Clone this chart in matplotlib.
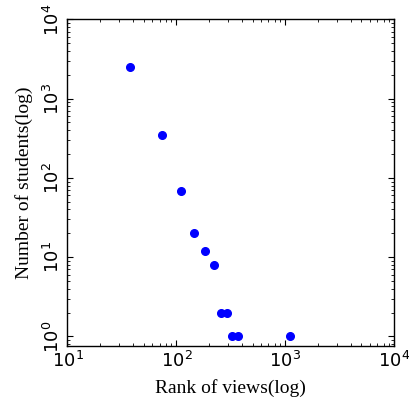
import matplotlib
matplotlib.use('Agg')
import matplotlib.pyplot as plt

# rank of views vs number of students
rank = [37.6, 74, 110, 146, 183, 220, 257, 292, 327, 366, 1097]
students = [2540, 343, 68, 20, 12, 8, 2, 2, 1, 1, 1]

plt.rcParams['xtick.direction'] = 'in'
plt.rcParams['ytick.direction'] = 'in'
plt.rcParams['xtick.top'] = True
plt.rcParams['ytick.right'] = True
plt.rcParams['xtick.major.size'] = 4
plt.rcParams['ytick.major.size'] = 4
plt.rcParams['xtick.minor.size'] = 2
plt.rcParams['ytick.minor.size'] = 2
plt.rcParams['axes.linewidth'] = 1.0

fig = plt.figure(figsize=(4.09, 4.04), dpi=100)
ax = fig.add_axes([0.165, 0.144, 0.799, 0.808])

ax.plot(rank, students, 'o', color='#0000ff', markersize=5.5, markeredgecolor='#0000ff')
ax.set_xscale('log')
ax.set_yscale('log')
ax.set_xlim(10, 1e4)
ax.set_ylim(0.76, 1e4)

ax.tick_params(labelsize=13)
for lbl in ax.get_yticklabels():
    lbl.set_rotation(90)
    lbl.set_va('center')

ax.set_xlabel('Rank of views(log)', family='Liberation Serif', fontsize=14, labelpad=6)
ax.set_ylabel('Number of students(log)', family='Liberation Serif', fontsize=14, labelpad=7)

fig.savefig('out.png', dpi=100, facecolor='white')
